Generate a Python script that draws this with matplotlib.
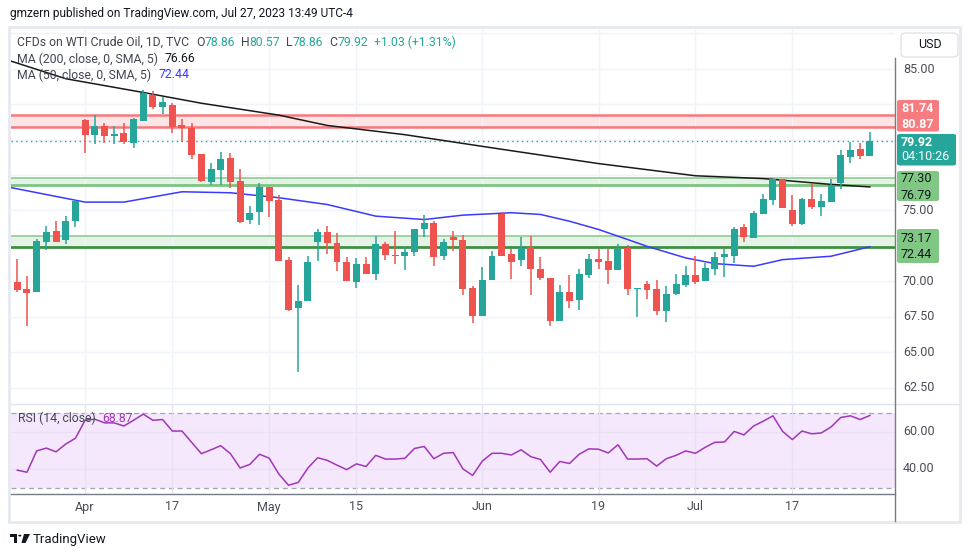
import numpy as np
import matplotlib.pyplot as plt
from matplotlib.patches import Rectangle, FancyBboxPatch, Circle, Polygon

plt.rcParams['font.family'] = ['Roboto', 'DejaVu Sans']

# daily candles, 23 Mar - 27 Jul 2023
opens = [69.93, 69.48, 69.27, 72.76, 73.58, 72.90, 74.24, 81.37, 80.33, 80.94,
         80.24, 80.45, 79.76, 81.32, 83.16, 82.31, 82.43, 81.01, 80.85, 78.96,
         77.00, 77.85, 78.68, 77.07, 74.31, 74.88, 76.65, 75.71, 71.53, 68.09,
         68.58, 72.76, 73.51, 72.73, 71.39, 69.92, 71.25, 70.49, 72.66, 71.88,
         71.76, 72.05, 73.68, 74.15, 71.76, 73.16, 72.94, 69.55, 67.52, 70.07,
         74.78, 71.95, 71.48, 72.45, 70.89, 70.25, 67.23, 69.26, 68.65, 70.42,
         71.60, 71.46, 70.77, 72.38, 69.45, 69.79, 69.48, 67.92, 69.13, 69.72,
         70.42, 70.05, 70.90, 71.70, 71.77, 73.82, 73.04, 74.72, 75.73, 77.19,
         75.00, 74.01, 75.78, 75.21, 75.59, 76.91, 78.77, 79.32, 78.86]
highs = [71.60, 70.35, 72.99, 73.89, 74.29, 74.60, 75.71, 81.49, 81.72, 81.16,
         80.94, 81.16, 81.53, 83.49, 83.40, 83.04, 82.62, 81.49, 81.16, 79.01,
         78.33, 79.13, 79.03, 77.90, 75.31, 76.91, 76.65, 76.06, 71.72, 69.76,
         71.77, 73.72, 73.89, 73.44, 71.72, 71.65, 71.72, 73.23, 72.80, 73.53,
         72.47, 73.72, 74.71, 74.26, 73.01, 73.53, 73.30, 69.64, 71.01, 72.17,
         74.90, 72.31, 73.16, 73.23, 71.74, 70.25, 69.76, 70.47, 70.89, 71.95,
         72.26, 72.31, 72.66, 72.57, 69.53, 70.05, 70.12, 69.69, 70.54, 71.06,
         71.77, 71.30, 72.10, 72.31, 73.84, 74.06, 74.93, 76.13, 77.24, 77.19,
         76.06, 75.90, 76.84, 76.13, 77.24, 79.25, 79.84, 79.79, 80.57]
lows = [69.22, 66.88, 69.22, 72.24, 72.76, 72.66, 73.82, 79.08, 79.67, 79.79,
        79.67, 79.67, 79.39, 81.32, 82.15, 81.82, 80.50, 79.86, 78.61, 77.03,
        76.77, 76.77, 76.56, 74.13, 74.01, 73.96, 74.53, 71.41, 67.92, 63.63,
        68.58, 71.41, 71.93, 70.70, 69.99, 69.50, 70.49, 70.11, 71.48, 71.25,
        70.77, 71.76, 73.16, 71.06, 71.53, 72.12, 69.05, 67.09, 67.52, 70.07,
        71.76, 70.18, 71.06, 69.05, 70.11, 66.88, 67.23, 68.15, 67.99, 70.25,
        70.89, 69.83, 70.77, 69.00, 67.45, 68.77, 67.59, 67.10, 69.01, 69.57,
        69.81, 70.00, 70.42, 70.31, 71.30, 72.76, 73.04, 74.72, 75.38, 75.16,
        73.89, 73.96, 75.07, 74.58, 75.59, 76.53, 78.37, 78.66, 78.86]
closes = [69.36, 69.15, 72.81, 73.51, 72.76, 74.29, 75.64, 80.33, 80.94, 80.26,
          80.38, 79.86, 81.44, 83.26, 82.31, 82.64, 80.90, 80.85, 78.91, 77.07,
          77.90, 78.61, 77.00, 74.22, 74.79, 76.65, 75.66, 71.41, 67.99, 68.58,
          71.34, 73.51, 72.67, 71.34, 69.99, 71.25, 70.49, 72.66, 71.83, 71.76,
          72.09, 73.72, 74.15, 71.69, 72.80, 72.94, 69.43, 67.52, 70.11, 71.81,
          71.81, 71.34, 72.38, 70.84, 70.21, 67.23, 69.26, 68.58, 70.54, 71.60,
          71.39, 70.77, 72.31, 69.43, 69.48, 69.41, 67.92, 69.13, 69.79, 70.42,
          69.97, 70.97, 71.74, 71.91, 73.66, 73.11, 74.79, 75.78, 77.19, 75.16,
          74.01, 75.83, 75.28, 75.66, 76.82, 78.89, 79.25, 78.85, 79.92]

rsi = [39.4, 38.3, 49.8, 51.3, 49.3, 53.5, 56.6, 66.3, 66.9, 64.9,
       64.9, 63.2, 66.3, 69.6, 66.3, 66.7, 60.5, 60.5, 54.4, 48.3,
       50.4, 52.6, 48.3, 40.6, 42.5, 48.0, 45.9, 37.3, 31.3, 32.8,
       40.6, 46.1, 44.7, 42.1, 39.7, 42.8, 41.4, 47.4, 45.4, 45.4,
       45.8, 51.1, 52.2, 45.6, 48.5, 48.9, 40.1, 36.6, 44.3, 48.5,
       48.5, 47.6, 50.4, 46.7, 45.2, 38.3, 44.1, 43.0, 48.0, 50.9,
       50.7, 48.7, 53.1, 45.4, 45.4, 45.6, 41.6, 45.6, 47.4, 49.8,
       48.5, 51.7, 54.4, 54.6, 60.3, 58.4, 63.2, 65.8, 68.7, 60.3,
       55.9, 60.5, 59.0, 59.5, 62.7, 67.8, 68.7, 66.7, 68.87]

ma200_idx = [-1, 5, 13, 19, 27, 32, 40, 50, 60, 70, 77, 84, 88]
ma200_val = [85.62, 84.30, 83.33, 82.57, 81.73, 81.00, 80.35, 79.32, 78.31,
             77.45, 77.25, 76.84, 76.66]
ma50_idx = [-1, 7, 11, 17, 22, 27, 32, 37, 42, 46, 51, 54, 57, 60, 63, 65,
            69, 72, 76, 79, 84, 88]
ma50_val = [76.66, 75.59, 75.59, 76.32, 76.25, 75.90, 75.42, 74.60, 74.36,
            74.67, 74.84, 74.72, 74.24, 73.66, 72.95, 72.47, 71.65, 71.25,
            71.06, 71.53, 71.77, 72.44]

resistance = [80.87, 81.74]
support_hi = [76.79, 77.30]
support_lo = [72.44, 73.17]
last_price = 79.92
countdown = '04:10:26'

tick_idx = [7, 16, 26, 35, 48, 60, 70, 80]
tick_lbl = ['Apr', '17', 'May', '15', 'Jun', '19', 'Jul', '17']
price_grid = [62.5, 65.0, 67.5, 70.0, 72.5, 75.0, 77.5, 80.0, 82.5, 85.0, 87.5]
price_lbl = [62.5, 65.0, 67.5, 70.0, 75.0, 85.0]

UP, DOWN = '#26a69a', '#ef5350'
GRID = '#f0f3fa'
TXT = '#131722'
LBL = '#434651'
AXT = '#4a4d57'
PURPLE = '#a136b8'
BLUE = '#3a3aff'

W, H = 970, 557
fig = plt.figure(figsize=(W / 100, H / 100), dpi=100)


def rect(x0, y0, x1, y1):
    return [x0 / W, 1 - y1 / H, (x1 - x0) / W, (y1 - y0) / H]


def ftext(x, y, s, **kw):
    kw.setdefault('va', 'center')
    return fig.text(x / W, 1 - y / H, s, **kw)


def fbox(x0, y0, x1, y1, **kw):
    p = FancyBboxPatch((x0 / W, 1 - y1 / H), (x1 - x0) / W, (y1 - y0) / H,
                       transform=fig.transFigure, **kw)
    fig.patches.append(p)


def fline(xs, ys, **kw):
    fig.add_artist(plt.Line2D([v / W for v in xs], [1 - v / H for v in ys],
                              transform=fig.transFigure, **kw))


def text_run(x, y, parts, size=9):
    r = fig.canvas.get_renderer()
    for s, color, gap in parts:
        t = ftext(x, y, s, color=color, fontsize=size)
        x += t.get_window_extent(r).width + gap


ax = fig.add_axes(rect(11, 28, 895, 403))
ax2 = fig.add_axes(rect(11, 404, 895, 494), sharex=ax)

# candles
o, h, l, c = (np.array(v) for v in (opens, highs, lows, closes))
x = np.arange(len(o))
col = np.where(c >= o, UP, DOWN)
ax.vlines(x, l, h, colors=col, lw=1.1, zorder=4)
ax.bar(x, np.maximum(np.abs(c - o), 0.08), bottom=np.minimum(o, c),
       width=0.72, color=col, lw=0, zorder=5)

# zones
ax.axhspan(*resistance, color='#fde4e5', lw=0, zorder=1)
for v in resistance:
    ax.axhline(v, color='#f7787c', lw=1.8, zorder=2)
for lo, hi, dark in [(support_hi[0], support_hi[1], '#7cc47f'),
                     (support_lo[0], support_lo[1], '#3d9142')]:
    ax.axhspan(lo, hi, color='#e5f3e6', lw=0, zorder=1)
    ax.axhline(hi, color='#86c98a', lw=1.1, zorder=2)
    ax.axhline(lo, color=dark, lw=2.0, zorder=2)
ax.axhline(last_price, color=UP, lw=1.0, ls=(0, (1, 2.5)), zorder=3)

ax.plot(ma200_idx, ma200_val, color='#1a1a1a', lw=1.1, zorder=3)
ax.plot(ma50_idx, ma50_val, color=BLUE, lw=1.1, zorder=3)

ax.set_xlim(-0.65, 90.6)
ax.set_ylim(61.41, 87.88)
ax.set_yticks(price_grid)
ax.set_xticks(tick_idx)
ax.grid(color=GRID, lw=1, zorder=0)
ax.tick_params(length=0, labelbottom=False, labelleft=False)
for s in ax.spines.values():
    s.set_visible(False)

# RSI pane
ax2.axhspan(30, 70, color='#f5e8fc', lw=0, zorder=0)
for v in (30, 70):
    ax2.axhline(v, color='#a3a6af', lw=0.9, ls=(0, (4, 3)), zorder=1)
ax2.plot(x, rsi, color=PURPLE, lw=1.1, zorder=3)
ax2.set_ylim(26.57, 75.07)
ax2.set_yticks([40, 60])
ax2.grid(color='#e9e0f3', lw=1, zorder=0)
ax2.tick_params(length=0, labelbottom=False, labelleft=False)
for s in ax2.spines.values():
    s.set_visible(False)

# frame and axes lines
fig.patches.append(Rectangle((9.5 / W, 1 - 522 / H), 951 / W, 495 / H,
                             transform=fig.transFigure, fill=False,
                             ec='#e6e9f0', lw=2))
fline([11, 960], [403.5, 403.5], color='#e0e3eb', lw=1)
fline([11, 895], [494, 494], color='#787b86', lw=1)
fline([895, 895], [58, 521], color='#787b86', lw=1)

# price axis labels
for v in price_lbl:
    ypx = 69.7 + (85 - v) * 14.13
    ftext(903, ypx, f'{v:.2f}', color=AXT, fontsize=9)
for v in (60, 40):
    ypx = 413.3 + (70 - v) * 1.835
    ftext(903, ypx, f'{v:.2f}', color=AXT, fontsize=9)

# badges
bs = 'round,pad=0,rounding_size=0.003'
fbox(897, 100, 939, 131.5, boxstyle=bs, fc='#f77c80', ec='none')
ftext(901, 108.5, f'{resistance[1]:.2f}', color='white', fontsize=9, weight='bold')
ftext(901, 124.5, f'{resistance[0]:.2f}', color='white', fontsize=9, weight='bold')
fbox(897, 134, 956, 165.5, boxstyle=bs, fc=UP, ec='none')
ftext(901, 142.5, f'{last_price:.2f}', color='white', fontsize=9, weight='bold')
ftext(901, 157, countdown, color='white', fontsize=9)
fbox(897, 171, 939, 201, boxstyle=bs, fc='#81c784', ec='none')
ftext(901, 179, f'{support_hi[1]:.2f}', color=TXT, fontsize=9)
ftext(901, 195.5, f'{support_hi[0]:.2f}', color=TXT, fontsize=9)
fbox(897, 229, 939, 263, boxstyle=bs, fc='#81c784', ec='none')
ftext(901, 238, f'{support_lo[1]:.2f}', color=TXT, fontsize=9)
ftext(901, 254, f'{support_lo[0]:.2f}', color=TXT, fontsize=9)

# USD button
fbox(901, 33, 958, 57, boxstyle='round,pad=0,rounding_size=0.006',
     fc='white', ec='#e0e3eb', lw=1)
ftext(929.5, 45, 'USD', color=TXT, fontsize=9, ha='center')

# date labels
for i, s in zip(tick_idx, tick_lbl):
    xpx = 16.3 + 9.7 * i
    ftext(xpx, 507, s, color=AXT, fontsize=9, ha='center')

# header texts
ftext(10, 14, 'gmzern published on TradingView.com, Jul 27, 2023 13:49 UTC-4',
      color=TXT, fontsize=8.6)
text_run(17, 42, [('CFDs on WTI Crude Oil, 1D, TVC', LBL, 7),
                  ('O', LBL, 0), ('78.86', UP, 6),
                  ('H', LBL, 0), ('80.57', UP, 6),
                  ('L', LBL, 0), ('78.86', UP, 6),
                  ('C', LBL, 0), ('79.92', UP, 6),
                  ('+1.03 (+1.31%)', UP, 0)], size=8.8)
text_run(17, 59, [('MA (200, close, 0, SMA, 5)', LBL, 7),
                  ('76.66', TXT, 0)], size=8.8)
text_run(17, 75, [('MA (50, close, 0, SMA, 5)', LBL, 7),
                  ('72.44', BLUE, 0)], size=8.8)
text_run(18, 418, [('RSI (14, close)', LBL, 7), ('68.87', PURPLE, 0)], size=8.8)

# logo
def fpx(x, y):
    return (x / W, 1 - y / H)


fig.patches.append(Polygon([fpx(10, 534), fpx(17, 534), fpx(17, 543),
                            fpx(14, 543), fpx(14, 537), fpx(10, 537)],
                           closed=True, fc=TXT, ec='none',
                           transform=fig.transFigure))
fig.patches.append(Circle(fpx(19.8, 535.6), 1.6 / W, fc=TXT, ec='none',
                          transform=fig.transFigure))
fig.patches.append(Polygon([fpx(24, 534), fpx(30, 534), fpx(25.5, 543),
                            fpx(21.5, 543)],
                           closed=True, fc=TXT, ec='none',
                           transform=fig.transFigure))
ftext(33, 539, 'TradingView', color=TXT, fontsize=9.5)

fig.savefig('out.png', dpi=100)
